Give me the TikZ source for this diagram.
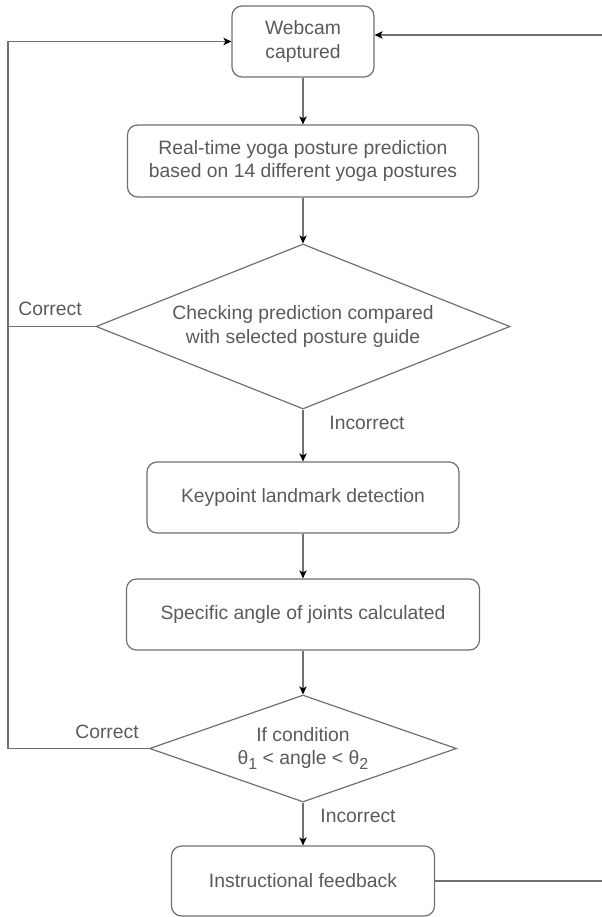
\documentclass[tikz,border=0pt]{standalone}
\usepackage{fontspec}
\setmainfont{Liberation Sans}
\usetikzlibrary{arrows.meta,shapes.geometric}
\definecolor{linegray}{HTML}{707070}
\definecolor{textgray}{HTML}{5A5A5A}
\tikzstyle{process}=[rectangle,rounded corners=7.5pt,draw=linegray,line width=0.9pt,text=textgray,align=center,inner sep=0pt,font=\fontsize{14.5}{17.5}\selectfont]
\tikzstyle{decision}=[diamond,draw=linegray,line width=0.9pt,text=textgray,align=center,inner sep=0pt,font=\fontsize{14.5}{17.5}\selectfont]
\tikzstyle{line}=[draw=linegray,line width=0.9pt]
\tikzstyle{edge}=[line,-{Stealth[length=6pt,width=5.5pt,inset=1.5pt,color=black]}]
\tikzstyle{weight}=[text=textgray,inner sep=0pt,font=\fontsize{14.5}{17}\selectfont]
\newcommand{\thsub}[1]{θ\raisebox{-0.45ex}{\fontsize{12}{14}\selectfont #1}}

\begin{document}
\begin{tikzpicture}[x=0.75pt,y=-0.75pt]
	\useasboundingbox (0,0) rectangle (602,917);
	
	\node[process,minimum width=106.5pt,minimum height=53.25pt] (cam) at (303,41.5) {Webcam\\captured};
	\node[process,minimum width=263.25pt,minimum height=54pt] (pred) at (303,161) {Real-time yoga posture prediction\\based on 14 different yoga postures};
	\node[decision,aspect=2.5,minimum width=310.5pt,minimum height=123.75pt] (check) at (303,326.5) {Checking prediction compared\\with selected posture guide};
	\node[process,minimum width=234pt,minimum height=53.25pt] (kp) at (303,497.5) {Keypoint landmark detection};
	\node[process,minimum width=264.75pt,minimum height=53.25pt] (ang) at (303,614.5) {Specific angle of joints calculated};
	\node[decision,aspect=2.87,minimum width=230.25pt,minimum height=80.25pt] (cond) at (303,748.5) {If condition\\\thsub{1} < angle < \thsub{2}};
	\node[process,minimum width=197.25pt,minimum height=52.5pt] (fb) at (303,881) {Instructional feedback};
	
	% loop ends, the right return runs off the page
	\coordinate (lt) at (8,41.5);
	\coordinate (lb) at (8,748.5);
	\coordinate (rt) at (603,35);
	\coordinate (rb) at (603,881);
	
	\draw[edge] (cam) -- (pred);
	\draw[edge] (pred) -- (check);
	\draw[edge] (check) -- (kp);
	\draw[edge] (kp) -- (ang);
	\draw[edge] (ang) -- (cond);
	\draw[edge] (cond) -- (fb);
	
	\draw[edge] (cond.west) -- (lb) -- (lt) -- (cam.west);
	\draw[line] (check.west) -- (check.west -| lb);
	\draw[line] (fb.east) -- (rb);
	\draw[edge] (rt) -- (cam.east |- rt);
	
	\node[weight] (c1) at (50,309) {Correct};
	\node[weight] (c2) at (107,732) {Correct};
	\node[weight] (i1) at (367,423) {Incorrect};
	\node[weight] (i2) at (358,816) {Incorrect};
\end{tikzpicture}
\end{document}
